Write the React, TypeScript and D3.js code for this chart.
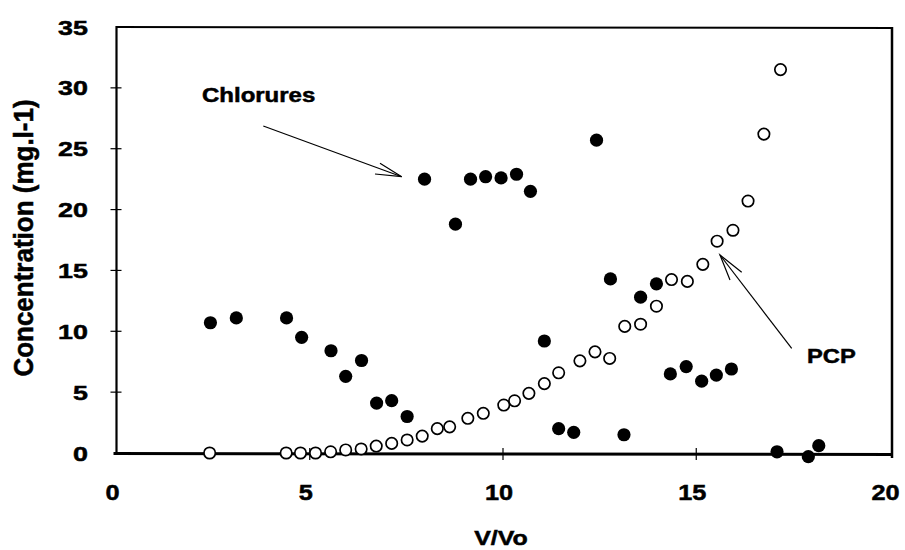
import React from "react";
import * as d3 from "d3";

const chlorX = [2.43, 3.1, 4.4, 4.79, 5.55, 5.93, 6.34, 6.73, 7.12, 7.52, 7.97, 8.77, 9.16, 9.55, 9.95, 10.35, 10.71, 11.07, 11.44, 11.83, 12.42, 12.78, 13.13, 13.56, 13.97, 14.33, 14.74, 15.14, 15.52, 15.91, 17.09, 17.9, 18.17];
const chlorY = [10.7, 11.1, 11.1, 9.5, 8.4, 6.3, 7.6, 4.1, 4.3, 3.0, 22.5, 18.8, 22.5, 22.7, 22.6, 22.9, 21.5, 9.2, 2.0, 1.7, 25.7, 14.3, 1.5, 12.8, 13.9, 6.5, 7.1, 5.9, 6.4, 6.9, 0.1, -0.3, 0.6];

const pcpX = [2.41, 4.39, 4.76, 5.15, 5.54, 5.93, 6.33, 6.72, 7.12, 7.52, 7.91, 8.3, 8.62, 9.09, 9.49, 10.02, 10.3, 10.67, 11.07, 11.44, 11.99, 12.38, 12.76, 13.15, 13.56, 13.97, 14.36, 14.77, 15.17, 15.54, 15.95, 16.34, 16.75, 17.18];
const pcpY = [0, 0, 0, 0, 0.1, 0.25, 0.33, 0.57, 0.79, 1.07, 1.39, 2.0, 2.15, 2.85, 3.26, 3.94, 4.29, 4.9, 5.7, 6.59, 7.57, 8.31, 7.77, 10.4, 10.58, 12.06, 14.25, 14.1, 15.5, 17.4, 18.3, 20.7, 26.2, 31.5];

const xTicks = [0, 5, 10, 15, 20];
const yTicks = [0, 5, 10, 15, 20, 25, 30, 35];

const xTitle = "V/Vo";
const yTitle = "Concentration (mg.l-1)";
const chlorLabel = "Chlorures";
const pcpLabel = "PCP";

const FONT = "'Liberation Sans', Arial, Helvetica, sans-serif";
const HEAVY = { stroke: "#000", strokeWidth: 0.5 };

export default function App() {
  const x = d3.scaleLinear().domain([0, 20]).range([116.5, 889.5]);
  const y = d3.scaleLinear().domain([0, 35]).range([453, 27]);
  const x0 = x(0), x1 = 892, yB = y(0), yT = y(35);

  return (
    <svg width={905} height={550} style={{ position: "absolute", left: 0, top: 0, background: "#fff" }}>
      <rect x={0} y={0} width={905} height={550} fill="#fff" />
      {/* frame */}
      <line x1={x0} y1={yT} x2={x1} y2={yT + 1} stroke="#000" strokeWidth={2} />
      <line x1={x1} y1={yT} x2={x1} y2={yB + 5} stroke="#000" strokeWidth={2.5} />
      <line x1={x0} y1={yT - 1} x2={x0} y2={yB + 2} stroke="#000" strokeWidth={2.2} />
      <line x1={x0 - 3} y1={yB + 0.5} x2={x1} y2={yB + 1.5} stroke="#000" strokeWidth={3} />
      {/* y ticks */}
      {yTicks.map((t) => (
        <g key={"yt" + t}>
          {t > 0 && t < 35 && <line x1={x0 - 6} x2={x0 + 5} y1={y(t)} y2={y(t)} stroke="#000" strokeWidth={1.2} />}
          <text
            transform={`translate(88,${y(t) + 7.5}) scale(1.28,1)`}
            textAnchor="end"
            fontFamily={FONT}
            fontWeight="bold"
            fontSize={21}
            {...HEAVY}
          >
            {t}
          </text>
        </g>
      ))}
      {/* x ticks */}
      {xTicks.map((t) => (
        <g key={"xt" + t}>
          {t > 0 && t < 20 && <line x1={x(t)} x2={x(t)} y1={yB - 5} y2={yB + 7} stroke="#000" strokeWidth={1.2} />}
          <text
            transform={`translate(${x(t) - 4},${500}) scale(1.15,1)`}
            textAnchor="middle"
            fontFamily={FONT}
            fontWeight="bold"
            fontSize={22}
            {...HEAVY}
          >
            {t}
          </text>
        </g>
      ))}
      {/* axis titles */}
      <text transform="translate(501,545) scale(1.19,1)" textAnchor="middle" fontFamily={FONT} fontWeight="bold" fontSize={21} {...HEAVY}>
        {xTitle}
      </text>
      <text transform="translate(33,238) rotate(-90) scale(1,1.08)" textAnchor="middle" fontFamily={FONT} fontWeight="bold" fontSize={26} {...HEAVY}>
        {yTitle}
      </text>
      {/* annotations */}
      <text transform="translate(202,101.5) scale(1.2,1)" fontFamily={FONT} fontWeight="bold" fontSize={20} {...HEAVY}>
        {chlorLabel}
      </text>
      <text transform="translate(807,362.5) scale(1.13,1)" fontFamily={FONT} fontWeight="bold" fontSize={21} {...HEAVY}>
        {pcpLabel}
      </text>
      <g stroke="#000" strokeWidth={1.2} fill="none">
        <line x1={263.3} y1={126} x2={401.7} y2={176.7} />
        <polyline points="380,163.3 401.7,176.7 375,174" />
        <line x1={791.7} y1={348.3} x2={720} y2={255} />
        <polyline points="741.7,272.3 720,255 730,280" />
      </g>
      {/* data */}
      {chlorX.map((v, i) => (
        <circle key={"c" + i} cx={x(v)} cy={y(chlorY[i])} r={6.6} fill="#000" />
      ))}
      {pcpX.map((v, i) => (
        <circle key={"p" + i} cx={x(v)} cy={y(pcpY[i])} r={5.7} fill="#fff" stroke="#000" strokeWidth={1.7} />
      ))}
    </svg>
  );
}
